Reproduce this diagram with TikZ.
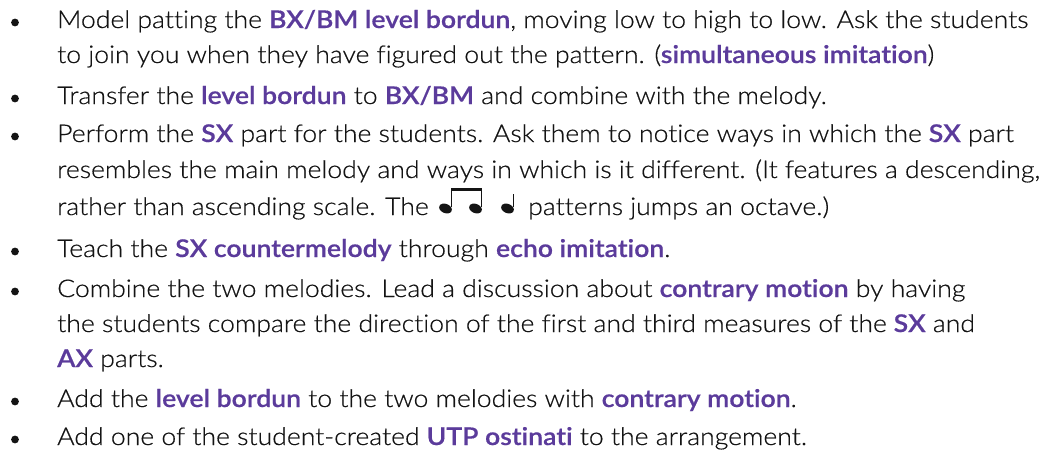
\documentclass[tikz,border=0pt]{standalone}
\usepackage{fontspec}
\setmainfont{Lato Light}[FakeStretch=1.09, FakeBold=0.5, Ligatures={NoCommon}, BoldFont={Lato Semibold}, BoldFeatures={FakeStretch=1.09}]
\definecolor{hl}{HTML}{5B3B9B}
\definecolor{ink}{HTML}{141414}
\newcommand{\hlt}[1]{{\bfseries\color{hl}#1}}
\tikzset{
  line/.style={anchor=base west, inner sep=0pt, text=ink, font=\fontsize{24.4}{28}\selectfont},
  bul/.style={fill=ink}
}
\begin{document}
\begin{tikzpicture}[x=1pt,y=-1pt]
\useasboundingbox (0,0) rectangle (1050,451);
% bullets
\foreach \b in {28,104,142,257,297,407,445}{
  \fill[bul] (15,\b-5.5) circle (3.9);
}
\node[line] (l1) at (57,28) {Model patting the \hlt{BX/BM level bordun}, moving low to high to low. Ask the students};
\node[line] (l2) at (57,63) {to join you when they have figured out the pattern. (\hlt{simultaneous imitation})};
\node[line] (l3) at (57,104) {Transfer the \hlt{level bordun} to \hlt{BX/BM} and combine with the melody.};
\node[line] (l4) at (57,142) {Perform the \hlt{SX} part for the students. Ask them to notice ways in which the \hlt{SX} part};
\node[line] (l5) at (57,178) {resembles the main melody and ways in which is it different. (It features a descending,};
\node[line] (l6a) at (57,215) {rather than ascending scale. The};
\node[line] (l6b) at (528,215) {patterns jumps an octave.)};
\node[line] (l7) at (57,257) {Teach the \hlt{SX countermelody} through \hlt{echo imitation}.};
\node[line] (l8) at (57,297) {Combine the two melodies. Lead a discussion about \hlt{contrary motion} by having};
\node[line] (l9) at (57,332) {the students compare the direction of the first and third measures of the \hlt{SX} and};
\node[line] (l10) at (57,367) {\hlt{AX} parts.};
\node[line] (l11) at (57,407) {Add the \hlt{level bordun} to the two melodies with \hlt{contrary motion}.};
\node[line] (l12) at (57,445) {Add one of the student-created \hlt{UTP ostinati} to the arrangement.};
% music notes: beamed eighth pair and a quarter note
\fill[ink, rotate around={-22:(445.5,208.5)}] (445.5,208.5) ellipse (6.6 and 4.6);
\fill[ink, rotate around={-22:(475.5,208.5)}] (475.5,208.5) ellipse (6.6 and 4.6);
\fill[ink, rotate around={-22:(507.5,208.5)}] (507.5,208.5) ellipse (6.6 and 4.6);
\draw[ink, line width=1.4pt] (451.3,206.5) -- (451.3,189);
\draw[ink, line width=1.4pt] (481.3,206.5) -- (481.3,189);
\fill[ink] (450.6,187.5) rectangle (482,191.2);
\draw[ink, line width=1.4pt] (513.3,206.5) -- (513.3,194);
\end{tikzpicture}
\end{document}
